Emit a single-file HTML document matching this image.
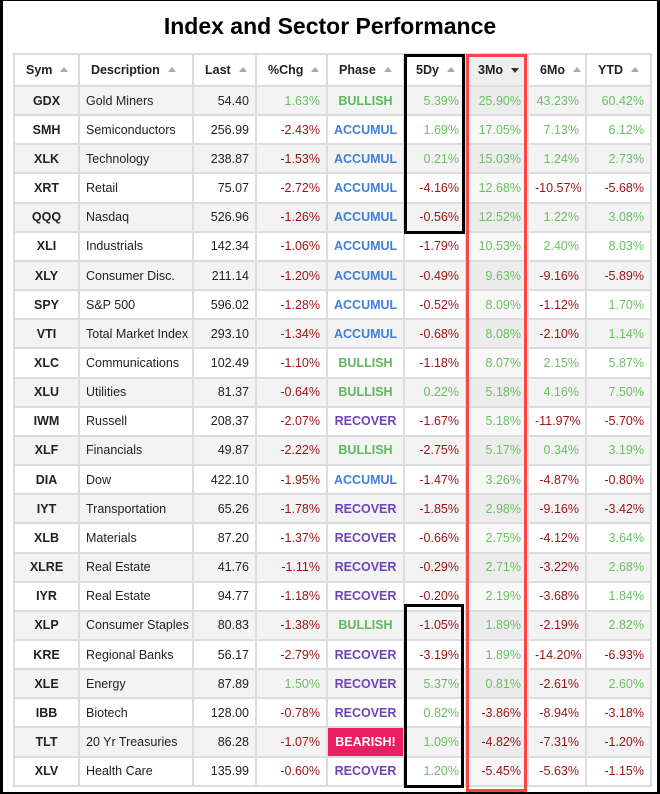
<!DOCTYPE html>
<html><head><style>
body{margin:0;width:660px;height:794px;overflow:hidden;background:#fff;font-family:"Liberation Sans",Arial,sans-serif;position:relative}
.frame{position:absolute;left:0;top:0;width:654px;height:791px;border-left:3px solid #000;border-top:1px solid #000;border-right:3px solid #000;border-bottom:2px solid #000}
h1{position:absolute;top:13px;left:0;width:660px;text-align:center;margin:0;font-size:23px;font-weight:bold;color:#000}
table{position:absolute;left:13px;top:53px;width:637px;border-collapse:collapse;table-layout:fixed;font-size:12.5px}
td,th{border:2px solid #ddd;padding:0 6px;white-space:nowrap;overflow:hidden}
th{height:30px;font-weight:bold;text-align:left;color:#222;padding-left:11px}
th .a{display:inline-block;margin-left:8px;width:0;height:0;border-left:4px solid transparent;border-right:4px solid transparent;border-bottom:5px solid #aaa;vertical-align:2px}
th .d{display:inline-block;margin-left:8px;width:0;height:0;border-left:4px solid transparent;border-right:4px solid transparent;border-top:5px solid #333;vertical-align:1px}
td{height:27.17px;color:#222}
tr.o td{background:#f3f3f3}
tr.o td.s{background:#ececec}
td.s{background:#f7f7f7}
th.s{background:#eee}
.c{text-align:center;font-weight:bold}
.r{text-align:right}
.g{color:#6cbf63}.n{color:#9a1414}
.BU{color:#5cb85c;font-weight:bold;text-align:center}
.AC{color:#3f7fd6;font-weight:bold;text-align:center}
.RE{color:#6e44b8;font-weight:bold;text-align:center}
.BE{background:#e91e63!important;color:#fff;font-weight:bold;text-align:center}
.box{position:absolute;box-sizing:border-box}
</style></head><body>
<div class="frame"></div>
<h1>Index and Sector Performance</h1>
<table>
<colgroup><col style="width:65px"><col style="width:114px"><col style="width:63px"><col style="width:71px"><col style="width:77px"><col style="width:62px"><col style="width:62px"><col style="width:58px"><col style="width:65px"></colgroup>
<tr><th>Sym<span class="a"></span></th><th>Description<span class="a"></span></th><th>Last<span class="a"></span></th><th>%Chg<span class="a"></span></th><th>Phase<span class="a"></span></th><th>5Dy<span class="a"></span></th><th class="s">3Mo<span class="d"></span></th><th>6Mo<span class="a"></span></th><th>YTD<span class="a"></span></th></tr>
<tr class="o"><td class="c">GDX</td><td>Gold Miners</td><td class="r">54.40</td><td class="r g">1.63%</td><td class="BU">BULLISH</td><td class="r g">5.39%</td><td class="r g s">25.90%</td><td class="r g">43.23%</td><td class="r g">60.42%</td></tr>
<tr><td class="c">SMH</td><td>Semiconductors</td><td class="r">256.99</td><td class="r n">-2.43%</td><td class="AC">ACCUMUL</td><td class="r g">1.69%</td><td class="r g s">17.05%</td><td class="r g">7.13%</td><td class="r g">6.12%</td></tr>
<tr class="o"><td class="c">XLK</td><td>Technology</td><td class="r">238.87</td><td class="r n">-1.53%</td><td class="AC">ACCUMUL</td><td class="r g">0.21%</td><td class="r g s">15.03%</td><td class="r g">1.24%</td><td class="r g">2.73%</td></tr>
<tr><td class="c">XRT</td><td>Retail</td><td class="r">75.07</td><td class="r n">-2.72%</td><td class="AC">ACCUMUL</td><td class="r n">-4.16%</td><td class="r g s">12.68%</td><td class="r n">-10.57%</td><td class="r n">-5.68%</td></tr>
<tr class="o"><td class="c">QQQ</td><td>Nasdaq</td><td class="r">526.96</td><td class="r n">-1.26%</td><td class="AC">ACCUMUL</td><td class="r n">-0.56%</td><td class="r g s">12.52%</td><td class="r g">1.22%</td><td class="r g">3.08%</td></tr>
<tr><td class="c">XLI</td><td>Industrials</td><td class="r">142.34</td><td class="r n">-1.06%</td><td class="AC">ACCUMUL</td><td class="r n">-1.79%</td><td class="r g s">10.53%</td><td class="r g">2.40%</td><td class="r g">8.03%</td></tr>
<tr class="o"><td class="c">XLY</td><td>Consumer Disc.</td><td class="r">211.14</td><td class="r n">-1.20%</td><td class="AC">ACCUMUL</td><td class="r n">-0.49%</td><td class="r g s">9.63%</td><td class="r n">-9.16%</td><td class="r n">-5.89%</td></tr>
<tr><td class="c">SPY</td><td>S&amp;P 500</td><td class="r">596.02</td><td class="r n">-1.28%</td><td class="AC">ACCUMUL</td><td class="r n">-0.52%</td><td class="r g s">8.09%</td><td class="r n">-1.12%</td><td class="r g">1.70%</td></tr>
<tr class="o"><td class="c">VTI</td><td>Total Market Index</td><td class="r">293.10</td><td class="r n">-1.34%</td><td class="AC">ACCUMUL</td><td class="r n">-0.68%</td><td class="r g s">8.08%</td><td class="r n">-2.10%</td><td class="r g">1.14%</td></tr>
<tr><td class="c">XLC</td><td>Communications</td><td class="r">102.49</td><td class="r n">-1.10%</td><td class="BU">BULLISH</td><td class="r n">-1.18%</td><td class="r g s">8.07%</td><td class="r g">2.15%</td><td class="r g">5.87%</td></tr>
<tr class="o"><td class="c">XLU</td><td>Utilities</td><td class="r">81.37</td><td class="r n">-0.64%</td><td class="BU">BULLISH</td><td class="r g">0.22%</td><td class="r g s">5.18%</td><td class="r g">4.16%</td><td class="r g">7.50%</td></tr>
<tr><td class="c">IWM</td><td>Russell</td><td class="r">208.37</td><td class="r n">-2.07%</td><td class="RE">RECOVER</td><td class="r n">-1.67%</td><td class="r g s">5.18%</td><td class="r n">-11.97%</td><td class="r n">-5.70%</td></tr>
<tr class="o"><td class="c">XLF</td><td>Financials</td><td class="r">49.87</td><td class="r n">-2.22%</td><td class="BU">BULLISH</td><td class="r n">-2.75%</td><td class="r g s">5.17%</td><td class="r g">0.34%</td><td class="r g">3.19%</td></tr>
<tr><td class="c">DIA</td><td>Dow</td><td class="r">422.10</td><td class="r n">-1.95%</td><td class="AC">ACCUMUL</td><td class="r n">-1.47%</td><td class="r g s">3.26%</td><td class="r n">-4.87%</td><td class="r n">-0.80%</td></tr>
<tr class="o"><td class="c">IYT</td><td>Transportation</td><td class="r">65.26</td><td class="r n">-1.78%</td><td class="RE">RECOVER</td><td class="r n">-1.85%</td><td class="r g s">2.98%</td><td class="r n">-9.16%</td><td class="r n">-3.42%</td></tr>
<tr><td class="c">XLB</td><td>Materials</td><td class="r">87.20</td><td class="r n">-1.37%</td><td class="RE">RECOVER</td><td class="r n">-0.66%</td><td class="r g s">2.75%</td><td class="r n">-4.12%</td><td class="r g">3.64%</td></tr>
<tr class="o"><td class="c">XLRE</td><td>Real Estate</td><td class="r">41.76</td><td class="r n">-1.11%</td><td class="RE">RECOVER</td><td class="r n">-0.29%</td><td class="r g s">2.71%</td><td class="r n">-3.22%</td><td class="r g">2.68%</td></tr>
<tr><td class="c">IYR</td><td>Real Estate</td><td class="r">94.77</td><td class="r n">-1.18%</td><td class="RE">RECOVER</td><td class="r n">-0.20%</td><td class="r g s">2.19%</td><td class="r n">-3.68%</td><td class="r g">1.84%</td></tr>
<tr class="o"><td class="c">XLP</td><td>Consumer Staples</td><td class="r">80.83</td><td class="r n">-1.38%</td><td class="BU">BULLISH</td><td class="r n">-1.05%</td><td class="r g s">1.89%</td><td class="r n">-2.19%</td><td class="r g">2.82%</td></tr>
<tr><td class="c">KRE</td><td>Regional Banks</td><td class="r">56.17</td><td class="r n">-2.79%</td><td class="RE">RECOVER</td><td class="r n">-3.19%</td><td class="r g s">1.89%</td><td class="r n">-14.20%</td><td class="r n">-6.93%</td></tr>
<tr class="o"><td class="c">XLE</td><td>Energy</td><td class="r">87.89</td><td class="r g">1.50%</td><td class="RE">RECOVER</td><td class="r g">5.37%</td><td class="r g s">0.81%</td><td class="r n">-2.61%</td><td class="r g">2.60%</td></tr>
<tr><td class="c">IBB</td><td>Biotech</td><td class="r">128.00</td><td class="r n">-0.78%</td><td class="RE">RECOVER</td><td class="r g">0.82%</td><td class="r n s">-3.86%</td><td class="r n">-8.94%</td><td class="r n">-3.18%</td></tr>
<tr class="o"><td class="c">TLT</td><td>20 Yr Treasuries</td><td class="r">86.28</td><td class="r n">-1.07%</td><td class="BE">BEARISH!</td><td class="r g">1.09%</td><td class="r n s">-4.82%</td><td class="r n">-7.31%</td><td class="r n">-1.20%</td></tr>
<tr><td class="c">XLV</td><td>Health Care</td><td class="r">135.99</td><td class="r n">-0.60%</td><td class="RE">RECOVER</td><td class="r g">1.20%</td><td class="r n s">-5.45%</td><td class="r n">-5.63%</td><td class="r n">-1.15%</td></tr>
</table>
<div class="box" style="left:404px;top:54px;width:61px;height:180px;border:3px solid #000"></div>
<div class="box" style="left:404px;top:604px;width:60px;height:184px;border:3px solid #000"></div>
<div class="box" style="left:466px;top:54px;width:61px;height:738px;border:3px solid #f44"></div>
</body></html>
